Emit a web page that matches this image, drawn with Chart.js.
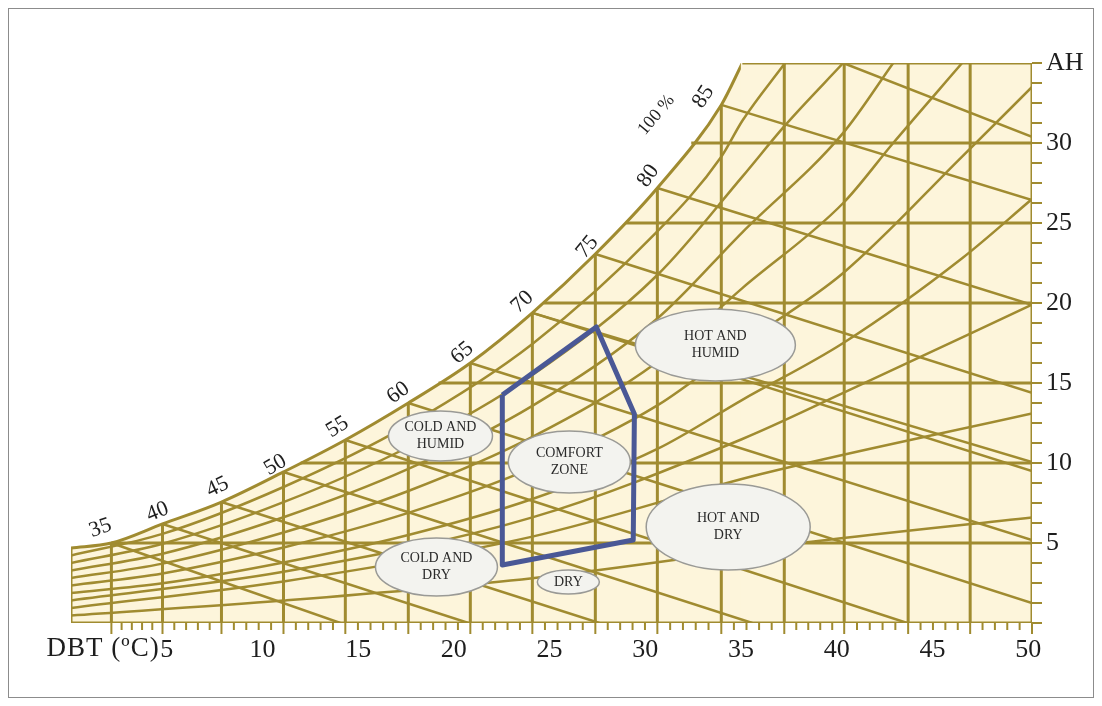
<!DOCTYPE html>
<html>
<head>
<meta charset="utf-8">
<title>Psychrometric chart</title>
<script src="https://cdn.jsdelivr.net/npm/chart.js@4.4.0/dist/chart.umd.min.js"></script>
<style>
  html, body { margin: 0; padding: 0; background: #fff; }
  canvas { display: block; }
</style>
</head>
<body>
<canvas id="chart" width="1102" height="706"></canvas>
<script>
// axis tick labels
const dbtTicks = [5, 10, 15, 20, 25, 30, 35, 40, 45, 50];
const ahTicks = [5, 10, 15, 20, 25, 30];

// saturation (100 %) curve: DBT (°C) vs AH
const satDbt = [0, 2.11, 4.78, 7.86, 11.10, 14.33, 17.62, 20.86, 24.10, 27.39, 30.63, 33.97, 35.07];
const satAh = [4.69, 5.0, 6.19, 7.56, 9.44, 11.44, 13.75, 16.25, 19.38, 23.06, 27.19, 32.38, 35];
const satLabels = ['35', '40', '45', '50', '55', '60', '65', '70', '75', '80', '85', '100 %'];

// vertical dry bulb lines (drawn every 5 °F) and where they meet the curve
const dbtLines = [2.11, 4.78, 7.86, 11.10, 14.33, 17.62, 20.86, 24.10, 27.39, 30.63, 33.97, 37.26, 40.39, 43.73, 46.97];
const dbtLineTops = [5.0, 6.19, 7.56, 9.44, 11.44, 13.75, 16.25, 19.38, 23.06, 27.19, 32.38, 35, 35, 35, 35];

// horizontal AH lines and where they start on the curve
const ahLines = [5, 10, 15, 20, 25, 30];
const ahLineStarts = [2.11, 12.0, 19.2, 24.7, 29.0, 32.4];

// sloping wet bulb lines
const wbFrom = [[2.11, 5.0], [4.78, 6.19], [7.86, 7.56], [11.10, 9.44], [14.33, 11.44], [17.62, 13.75],
  [20.86, 16.25], [24.10, 19.38], [24.10, 19.38], [27.39, 23.06], [30.63, 27.19], [33.97, 32.38], [40.34, 35]];
const wbTo = [[14.07, 0], [20.76, 0], [27.6, 0], [35.59, 0], [43.68, 0], [50.2, 1.25],
  [50.2, 5.19], [50.2, 10.06], [50.2, 9.5], [50.2, 14.38], [50.2, 19.88], [50.2, 26.44], [50.2, 30.38]];

// relative humidity curves
const rh90 = [[0, 4.22], [4.78, 5.57], [11.1, 8.5], [17.62, 12.38], [24.1, 17.44], [30.63, 24.47], [33.97, 29.14], [35.07, 31.39], [37.3, 35]];
const rh80 = [[0, 3.75], [4.78, 4.95], [11.1, 7.55], [17.62, 11.0], [24.1, 15.5], [30.63, 21.75], [35.07, 27.9], [37.3, 31.1], [40.34, 35]];
const rh70 = [[0, 3.28], [4.78, 4.33], [11.1, 6.61], [17.62, 9.63], [24.1, 13.57], [30.63, 19.03], [35.07, 24.42], [40.34, 30.63], [42.95, 35]];
const rh60 = [[0, 2.81], [4.78, 3.71], [11.1, 5.66], [17.62, 8.25], [24.1, 11.63], [30.63, 16.31], [35.07, 20.93], [40.34, 26.25], [42.95, 30.0], [46.55, 35]];
const rh50 = [[0, 2.35], [4.78, 3.1], [11.1, 4.72], [17.62, 6.88], [24.1, 9.69], [30.63, 13.6], [35.07, 17.44], [40.34, 21.88], [46.55, 29.15], [50.2, 33.5]];
const rh40 = [[0, 1.88], [4.78, 2.48], [11.1, 3.78], [17.62, 5.5], [24.1, 7.75], [30.63, 10.88], [35.07, 13.95], [40.34, 17.5], [46.55, 22.8], [50.2, 26.5]];
const rh30 = [[0, 1.41], [11.1, 3.2], [24.1, 6.6], [35.07, 11.5], [40.2, 14.3], [50.2, 19.9]];
const rh20 = [[0, 0.94], [11.1, 2.6], [24.1, 5.4], [36, 9.3], [50.2, 13.1]];
const rh10 = [[0, 0.47], [11.1, 1.4], [24.1, 2.8], [38.8, 5.1], [50.2, 6.6]];

// comfort zone outline
const comfortDbt = [22.53, 27.44, 29.43, 29.37, 22.53, 22.53];
const comfortAh = [14.25, 18.5, 13.06, 5.19, 3.63, 14.25];

// zone bubbles
const zoneNames = [['HOT AND', 'HUMID'], ['COLD AND', 'HUMID'], ['COMFORT', 'ZONE'], ['COLD AND', 'DRY'], ['DRY'], ['HOT AND', 'DRY']];
const zoneDbt = [33.66, 19.3, 26.03, 19.09, 25.98, 34.33];
const zoneAh = [17.38, 11.69, 10.06, 3.5, 2.56, 6.0];

const olive = '#a08b30';
const cream = '#fdf5db';
const serif = '"Liberation Serif", "DejaVu Serif", serif';

// bubble sizes (px) and label placement along the curve
const zoneSizes = [[80, 36], [52, 25], [61, 31], [61, 29], [31, 12], [82, 43]];
const labelSpots = [
  [1.54, 5.94, -20], [4.52, 6.94, -22], [7.65, 8.5, -25], [10.68, 9.88, -30], [13.92, 12.25, -32],
  [17.10, 14.38, -36], [20.44, 16.88, -40], [23.58, 20.06, -43], [26.97, 23.5, -50], [30.16, 27.94, -55],
  [33.03, 32.88, -57], [30.58, 31.75, -50]
];

const pts = (xs, ys) => xs.map((v, i) => ({ x: v, y: ys[i] }));
const pairs = arr => arr.map(p => ({ x: p[0], y: p[1] }));

function straight(data, width) {
  return { data, showLine: true, borderColor: olive, borderWidth: width, pointRadius: 0, tension: 0, fill: false };
}
function curve(data, width) {
  return { data, showLine: true, borderColor: olive, borderWidth: width, pointRadius: 0, cubicInterpolationMode: 'monotone', fill: false };
}

const datasets = [];
datasets.push({
  data: pts(comfortDbt, comfortAh), showLine: true, borderColor: '#4a5896', borderWidth: 5, pointRadius: 0,
  tension: 0, fill: false, borderJoinStyle: 'round'
});
wbFrom.forEach((p, i) => datasets.push(straight(pairs([p, wbTo[i]]), 2.5)));
[rh90, rh80, rh70, rh60, rh50, rh40, rh30, rh20, rh10].forEach(r => datasets.push(curve(pairs(r), 2.5)));
ahLines.forEach((v, i) => datasets.push(straight([{ x: ahLineStarts[i], y: v }, { x: 50.2, y: v }], 3)));
dbtLines.forEach((v, i) => datasets.push(straight([{ x: v, y: 0 }, { x: v, y: dbtLineTops[i] }], 3)));
// outer frame of the chart
datasets.push(straight([{ x: 0, y: 4.69 }, { x: 0, y: 0 }, { x: 50.2, y: 0 }, { x: 50.2, y: 35 }], 3));
datasets.push(straight([{ x: 35.07, y: 35 }, { x: 50.2, y: 35 }], 3));
// cream area to the right of the curve top (overlaps the curve fill a little so no seam shows)
datasets.push({
  data: [{ x: 34.98, y: 35 }, { x: 50.2, y: 35 }], showLine: true, borderWidth: 0, borderColor: cream,
  pointRadius: 0, fill: 'start', backgroundColor: cream
});
datasets.push(Object.assign(curve(pts(satDbt, satAh), 3), { fill: 'start', backgroundColor: cream }));

const diagram = {
  id: 'diagram',
  beforeDraw(chart) {
    const ctx = chart.ctx;
    ctx.save();
    ctx.fillStyle = '#fff';
    ctx.fillRect(0, 0, chart.width, chart.height);
    ctx.restore();
  },
  afterDatasetsDraw(chart) {
    const { ctx, scales: { x, y } } = chart;
    ctx.save();
    // little tick marks under the bottom edge
    ctx.strokeStyle = olive;
    ctx.lineWidth = 2;
    const base = y.getPixelForValue(0);
    for (let i = 0; i < dbtLines.length; i++) {
      const a = dbtLines[i];
      const b = i + 1 < dbtLines.length ? dbtLines[i + 1] : 50.2;
      for (let k = 0; k < 5; k++) {
        const px = x.getPixelForValue(a + (b - a) * k / 5);
        ctx.beginPath();
        ctx.moveTo(px, base);
        ctx.lineTo(px, base + (k === 0 ? 11 : 7));
        ctx.stroke();
      }
    }
    const pr = x.getPixelForValue(50.2);
    ctx.beginPath();
    ctx.moveTo(pr, base);
    ctx.lineTo(pr, base + 11);
    ctx.stroke();

    // zone bubbles
    zoneNames.forEach((lines, i) => {
      const cx = x.getPixelForValue(zoneDbt[i]);
      const cy = y.getPixelForValue(zoneAh[i]);
      ctx.beginPath();
      ctx.ellipse(cx, cy, zoneSizes[i][0], zoneSizes[i][1], 0, 0, Math.PI * 2);
      ctx.fillStyle = '#f3f3ef';
      ctx.fill();
      ctx.lineWidth = 1.5;
      ctx.strokeStyle = '#9a9a96';
      ctx.stroke();
      ctx.fillStyle = '#2a2a2a';
      ctx.font = '14px ' + serif;
      ctx.textAlign = 'center';
      ctx.textBaseline = 'middle';
      const h = 17;
      lines.forEach((t, k) => {
        ctx.fillText(t, cx, cy + (k - (lines.length - 1) / 2) * h);
      });
    });
    ctx.restore();
  },
  afterDraw(chart) {
    const { ctx, scales: { x, y } } = chart;
    ctx.save();
    ctx.fillStyle = '#1e1e1e';
    ctx.textAlign = 'center';
    ctx.textBaseline = 'middle';
    satLabels.forEach((t, i) => {
      const s = labelSpots[i];
      ctx.save();
      ctx.translate(x.getPixelForValue(s[0]), y.getPixelForValue(s[1]));
      ctx.rotate(s[2] * Math.PI / 180);
      ctx.font = (t.length > 2 ? '18px ' : '22px ') + serif;
      ctx.fillText(t, 0, 0);
      ctx.restore();
    });
    // axis name on the left of the DBT labels
    ctx.font = '27px ' + serif;
    ctx.letterSpacing = '1px';
    ctx.textAlign = 'right';
    ctx.fillText('DBT (\u00baC)', x.getPixelForValue(5) - 7, y.getPixelForValue(0) + 26);
    ctx.letterSpacing = '0px';
    // outer frame
    ctx.strokeStyle = '#8c8c8c';
    ctx.lineWidth = 1;
    ctx.strokeRect(8.5, 8.5, 1085, 689);
    ctx.restore();
  }
};

new Chart(document.getElementById('chart'), {
  type: 'scatter',
  data: { datasets },
  options: {
    responsive: false,
    animation: false,
    events: [],
    layout: { padding: { left: 71, top: 63, right: 0, bottom: 0 } },
    plugins: { legend: { display: false }, tooltip: { enabled: false } },
    scales: {
      x: {
        type: 'linear', position: 'bottom', min: 0, max: 50.2,
        grid: { display: false }, border: { display: false },
        afterBuildTicks: axis => { axis.ticks = dbtTicks.map(v => ({ value: v })); },
        afterFit: axis => { axis.height = 83; },
        ticks: {
          autoSkip: false, maxRotation: 0, padding: 4, color: '#1e1e1e',
          font: { family: serif, size: 26 },
          callback: v => String(v)
        }
      },
      y: {
        type: 'linear', position: 'right', min: 0, max: 35,
        grid: { display: true, drawOnChartArea: false, drawTicks: true, tickLength: 10, color: olive, lineWidth: 2 },
        border: { display: false },
        afterBuildTicks: axis => {
          const t = [];
          for (let v = 0; v <= 35; v += 1.25) t.push({ value: v });
          axis.ticks = t;
        },
        afterFit: axis => { axis.width = 70; },
        ticks: {
          autoSkip: false, padding: 4, color: '#1e1e1e', crossAlign: 'near',
          font: { family: serif, size: 26 },
          callback: v => (v === 35 ? 'AH' : (ahTicks.includes(v) ? String(v) : ''))
        }
      }
    }
  },
  plugins: [diagram]
});
</script>
</body>
</html>
